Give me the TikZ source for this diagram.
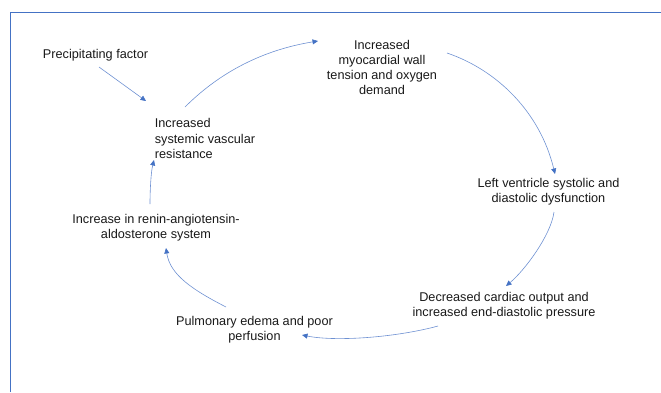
\documentclass[tikz,border=0pt]{standalone}
\usepackage{fontspec}
\setmainfont{Liberation Sans}
\usetikzlibrary{arrows.meta,calc}
\definecolor{frameblue}{RGB}{68,114,196}
\definecolor{lineblue}{RGB}{110,145,210}
\definecolor{tipblue}{RGB}{68,114,196}
\definecolor{txt}{RGB}{25,25,25}
\tikzset{
  lbl/.style={inner sep=0pt, align=center, text=txt, font=\fontsize{12.7}{15.3}\selectfont},
  conn/.style={draw=lineblue, line width=0.6pt, -{Triangle[length=5.5pt,width=5pt,color=tipblue]}}
}
\begin{document}
\begin{tikzpicture}[x=1pt,y=-1pt]
\useasboundingbox (0,0) rectangle (661,392);
\draw[frameblue, line width=0.9pt] (10,392) -- (10,12) -- (661,12);

\node[lbl] (p) at (95.5,55) {Precipitating factor};
\node[lbl, align=left] (svr) at (205,138.5) {Increased\\systemic vascular\\resistance};
\node[lbl] (myo) at (382,67.5) {Increased\\myocardial wall\\tension and oxygen\\demand};
\node[lbl] (lv) at (548.5,192) {Left ventricle systolic and\\diastolic dysfunction};
\node[lbl] (dec) at (504,305.5) {Decreased cardiac output and\\increased end-diastolic pressure};
\node[lbl] (pulm) at (254.5,330) {Pulmonary edema and poor\\perfusion};
\node[lbl] (raas) at (156,227.5) {Increase in renin-angiotensin-\\aldosterone system};

% precipitating -> SVR
\draw[conn] ($(p.center)+(3.5,12)$) -- ($(svr.center)+(-59,-37.5)$);
% SVR -> myocardial
\draw[conn] ($(svr.center)+(-20,-31.5)$) .. controls ($(svr.center)+(15,-66.5)$) and ($(myo.center)+(-119,-17.5)$) .. ($(myo.center)+(-64,-26.5)$);
% myocardial -> LV
\draw[conn] ($(myo.center)+(65,-14.5)$) .. controls ($(myo.center)+(115,2.5)$) and ($(lv.center)+(-8.5,-80)$) .. ($(lv.center)+(6.5,-18)$);
% LV -> decreased
\draw[conn] ($(lv.center)+(5.5,20)$) .. controls ($(lv.center)+(2.5,43)$) and ($(dec.center)+(21,-35.5)$) .. ($(dec.center)+(2,-19.5)$);
% decreased -> pulmonary
\draw[conn] ($(dec.center)+(-66,20.5)$) .. controls ($(dec.center)+(-106,31.5)$) and ($(pulm.center)+(82.5,12)$) .. ($(pulm.center)+(47.5,5)$);
% pulmonary -> RAAS
\draw[conn] ($(pulm.center)+(-28.5,-23)$) .. controls ($(pulm.center)+(-61.5,-40)$) and ($(raas.center)+(14,47.5)$) .. ($(raas.center)+(10,20.5)$);
% RAAS -> SVR
\draw[conn] ($(raas.center)+(-6,-23.5)$) .. controls ($(raas.center)+(-6,-37.5)$) and ($(svr.center)+(-54,33.5)$) .. ($(svr.center)+(-51,21.5)$);
\end{tikzpicture}
\end{document}
